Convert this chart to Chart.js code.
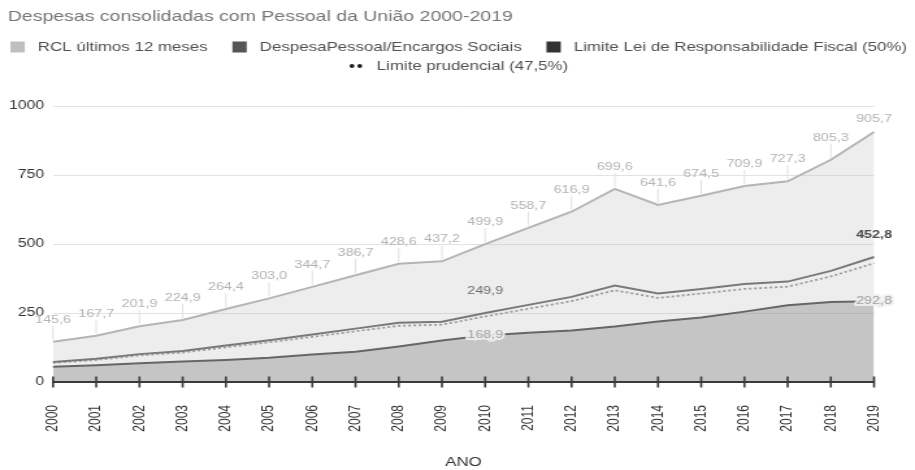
<!DOCTYPE html>
<html>
<head>
<meta charset="utf-8">
<script src="https://cdn.jsdelivr.net/npm/chart.js@4"></script>
<style>
  html, body { margin: 0; padding: 0; background: #fff; overflow: hidden; }
  #wrap { position: absolute; left: 0; top: 0; width: 704px; height: 470px;
          transform: scaleX(1.29972); transform-origin: 0 0; }
  canvas { display: block; }
</style>
</head>
<body>
<div id="wrap"><canvas id="c" width="704" height="470"></canvas></div>
<script>
const TITLE = 'Despesas consolidadas com Pessoal da União 2000-2019';
const X_TITLE = 'ANO';
const YEARS = ['2000','2001','2002','2003','2004','2005','2006','2007','2008','2009',
               '2010','2011','2012','2013','2014','2015','2016','2017','2018','2019'];
const SERIES_NAMES = ['RCL últimos 12 meses', 'DespesaPessoal/Encargos Sociais',
                      'Limite Lei de Responsabilidade Fiscal (50%)', 'Limite prudencial (47,5%)'];
const RCL = [145.6, 167.7, 201.9, 224.9, 264.4, 303.0, 344.7, 386.7, 428.6, 437.2,
             499.9, 558.7, 616.9, 699.6, 641.6, 674.5, 709.9, 727.3, 805.3, 905.7];
const DESPESA = [55, 61, 68, 74, 80, 88, 100, 110, 129, 150,
                 168.9, 178, 187, 201, 219, 234, 255, 278, 290, 292.8];
const LIMITE = [72.8, 83.9, 101.0, 112.5, 132.2, 151.5, 172.4, 193.4, 214.3, 218.6,
                249.9, 279.4, 308.5, 349.8, 320.8, 337.3, 355.0, 363.7, 402.7, 452.8];
const PRUDENCIAL = [69.2, 79.7, 95.9, 106.8, 125.6, 143.9, 163.7, 183.7, 203.6, 207.7,
                    237.5, 265.4, 293.0, 332.3, 304.8, 320.4, 337.2, 345.5, 382.5, 430.2];
const Y_TICKS = [0, 250, 500, 750, 1000];
const LABELED_YEARS = ['2010', '2019'];

const FONT = '"Liberation Sans", Arial, sans-serif';
const fmt = v => v.toFixed(1).replace('.', ',');

const decor = {
  id: 'decor',
  beforeDraw(chart) {
    const ctx = chart.ctx;
    ctx.save();
    ctx.fillStyle = '#fff';
    ctx.fillRect(0, 0, chart.width, chart.height);
    ctx.textBaseline = 'middle';
    ctx.textAlign = 'left';
    ctx.font = '15px ' + FONT;
    ctx.fillStyle = '#767676';
    ctx.fillText(TITLE, 6, 17);

    // legend
    ctx.font = '13px ' + FONT;
    const items = [
      { text: SERIES_NAMES[0], kind: 'box', color: '#bfbfbf' },
      { text: SERIES_NAMES[1], kind: 'box', color: '#555555' },
      { text: SERIES_NAMES[2], kind: 'box', color: '#333333' },
      { text: SERIES_NAMES[3], kind: 'dots', color: '#222222' }
    ];
    const rows = [[items[0], items[1], items[2]], [items[3]]];
    const rowY = [47, 66];
    const BOX = 11, GAP = 10, ITEM_GAP = 19;
    rows.forEach((row, r) => {
      const widths = row.map(it => BOX + GAP + ctx.measureText(it.text).width);
      const total = widths.reduce((a, b) => a + b, 0) + ITEM_GAP * (row.length - 1);
      let x = (chart.width - total) / 2 + 1;
      const y = rowY[r];
      row.forEach((it, i) => {
        ctx.fillStyle = it.color;
        if (it.kind === 'box') {
          ctx.fillRect(x, y - BOX / 2, BOX, BOX);
        } else {
          ctx.beginPath(); ctx.arc(x + 2, y, 1.9, 0, Math.PI * 2); ctx.fill();
          ctx.beginPath(); ctx.arc(x + 8, y, 1.9, 0, Math.PI * 2); ctx.fill();
        }
        ctx.fillStyle = '#505050';
        ctx.fillText(it.text, x + BOX + GAP, y);
        x += widths[i] + ITEM_GAP;
      });
    });
    ctx.restore();
  },
  afterDatasetsDraw(chart) {
    const ctx = chart.ctx;
    const area = chart.chartArea;
    const ys = chart.scales.y, xs = chart.scales.x;
    const y0 = ys.getPixelForValue(0);
    ctx.save();
    // baseline and tick marks
    ctx.strokeStyle = '#3a3a3a';
    ctx.lineWidth = 2;
    ctx.beginPath(); ctx.moveTo(area.left, y0); ctx.lineTo(area.right, y0); ctx.stroke();
    ctx.lineWidth = 1.6;
    YEARS.forEach((yr, i) => {
      const x = xs.getPixelForValue(i);
      ctx.beginPath(); ctx.moveTo(x, y0 - 5.5); ctx.lineTo(x, y0 + 5.5); ctx.stroke();
    });

    ctx.textAlign = 'center';
    ctx.textBaseline = 'middle';
    ctx.font = '11px ' + FONT;
    // RCL annotations with stems
    const m0 = chart.getDatasetMeta(0);
    m0.data.forEach((pt, i) => {
      const off = (i === YEARS.length - 1) ? 13 : 22;
      if (off > 15) {
        ctx.strokeStyle = '#e2e2e2';
        ctx.lineWidth = 1;
        ctx.beginPath(); ctx.moveTo(pt.x, pt.y - 2); ctx.lineTo(pt.x, pt.y - off + 6); ctx.stroke();
      }
      ctx.fillStyle = '#b3b3b3';
      ctx.fillText(fmt(RCL[i]), pt.x, pt.y - off);
    });
    // Limite annotations
    const m2 = chart.getDatasetMeta(2);
    LABELED_YEARS.forEach((yr, k) => {
      const i = YEARS.indexOf(yr);
      const pt = m2.data[i];
      ctx.font = (k === 1 ? 'bold ' : '') + '11px ' + FONT;
      ctx.fillStyle = k === 1 ? '#4a4a4a' : '#6e6e6e';
      ctx.fillText(fmt(LIMITE[i]), pt.x, pt.y - 22);
    });
    // Despesa annotations (inline, with halo)
    const m1 = chart.getDatasetMeta(1);
    ctx.font = '11px ' + FONT;
    LABELED_YEARS.forEach((yr) => {
      const i = YEARS.indexOf(yr);
      const pt = m1.data[i];
      ctx.lineWidth = 4;
      ctx.strokeStyle = 'rgba(238,238,238,0.95)';
      ctx.strokeText(fmt(DESPESA[i]), pt.x, pt.y);
      ctx.fillStyle = '#a0a0a0';
      ctx.fillText(fmt(DESPESA[i]), pt.x, pt.y);
    });
    ctx.restore();
  }
};

new Chart(document.getElementById('c'), {
  type: 'line',
  data: {
    labels: YEARS,
    datasets: [
      { label: SERIES_NAMES[0], data: RCL, borderColor: '#b5b5b5', borderWidth: 2,
        backgroundColor: 'rgba(189,189,189,0.27)', fill: 'origin', pointRadius: 0, tension: 0 },
      { label: SERIES_NAMES[1], data: DESPESA, borderColor: '#474747', borderWidth: 2,
        backgroundColor: 'rgba(75,75,75,0.3)', fill: 'origin', pointRadius: 0, tension: 0 },
      { label: SERIES_NAMES[2], data: LIMITE, borderColor: '#616161', borderWidth: 2,
        fill: false, pointRadius: 0, tension: 0 },
      { label: SERIES_NAMES[3], data: PRUDENCIAL, borderColor: '#8f8f8f', borderWidth: 1.8,
        borderDash: [2, 2], fill: false, pointRadius: 0, tension: 0 }
    ]
  },
  options: {
    responsive: false,
    animation: false,
    devicePixelRatio: 1,
    layout: { padding: { top: 106, right: 31.5, bottom: 0, left: 0 } },
    plugins: { legend: { display: false }, title: { display: false }, tooltip: { enabled: false } },
    scales: {
      x: {
        type: 'category',
        offset: false,
        grid: { display: false },
        border: { display: false },
        ticks: { minRotation: 90, maxRotation: 90, padding: 15, autoSkip: false,
                 color: '#333', font: { family: FONT, size: 12 } },
        title: { display: true, text: X_TITLE, color: '#333', padding: { top: 0, bottom: 0 },
                 font: { family: FONT, size: 13 } },
        afterFit: s => { s.height = 88; }
      },
      y: {
        min: 0, max: 1000,
        afterBuildTicks: s => { s.ticks = Y_TICKS.map(v => ({ value: v })); },
        grid: { color: '#e2e2e2', lineWidth: 1, drawTicks: false },
        border: { display: false },
        ticks: { padding: 7, color: '#333', font: { family: FONT, size: 12 },
                 callback: v => String(v) },
        afterFit: s => { s.width = 40.8; }
      }
    }
  },
  plugins: [decor]
});
</script>
</body>
</html>
